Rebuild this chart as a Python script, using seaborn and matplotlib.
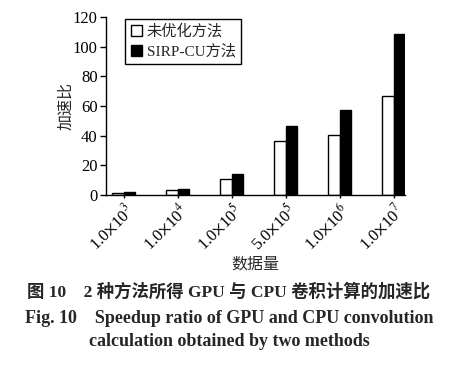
import numpy as np
import pandas as pd
import seaborn as sns
import matplotlib.pyplot as plt
from matplotlib.patches import Patch

sizes = [r"1.0$\times$10$^{3}$", r"1.0$\times$10$^{4}$", r"1.0$\times$10$^{5}$",
         r"5.0$\times$10$^{5}$", r"1.0$\times$10$^{6}$", r"1.0$\times$10$^{7}$"]
methods = ["未优化方法", "SIRP-CU方法"]
plain = [1.3, 3.5, 10.8, 36.2, 40.2, 67.0]
sirp = [1.7, 3.8, 14.4, 46.5, 57.1, 108.4]

df = pd.DataFrame({
    "size": sizes * 2,
    "method": [methods[0]] * len(sizes) + [methods[1]] * len(sizes),
    "speedup": plain + sirp,
})

sns.set_style("ticks")
plt.rcParams['font.family'] = ['Liberation Serif', 'Noto Sans CJK SC']
plt.rcParams['mathtext.fontset'] = 'stix'

fig = plt.figure(figsize=(4.58, 3.67), dpi=100)
ax = fig.add_axes([0.2314, 0.4687, 0.6526, 0.485])

sns.barplot(data=df, x="size", y="speedup", hue="method", order=sizes,
            hue_order=methods, palette=["white", "black"], width=0.42,
            edgecolor="black", linewidth=1.0, ax=ax, legend=False)

ax.set_xlim(-0.33, 5.21)
ax.set_ylim(0, 120)
ax.set_yticks(np.arange(0, 121, 20))
ax.tick_params(axis="y", labelsize=12, direction="out", length=4, width=1,
               pad=2, colors="black")
ax.tick_params(axis="x", labelsize=12, direction="out", length=2, width=1,
               pad=2, colors="black")
plt.setp(ax.get_xticklabels(), rotation=45, ha="right", rotation_mode="anchor")
for s in ["top", "right"]:
    ax.spines[s].set_visible(False)
for s in ["left", "bottom"]:
    ax.spines[s].set_color("black")
    ax.spines[s].set_linewidth(1.0)

ax.set_ylabel("加速比", fontsize=11.5)
ax.yaxis.set_label_coords(-0.105, 0.5)
ax.set_xlabel("数据量", fontsize=11.5, labelpad=2)

handles = [Patch(facecolor="white", edgecolor="black", linewidth=1.0),
           Patch(facecolor="black", edgecolor="black", linewidth=1.0)]
leg = ax.legend(handles, methods, loc="upper left", bbox_to_anchor=(0.06, 1.0),
                fontsize=11, fancybox=False, edgecolor="black", framealpha=1,
                handlelength=0.75, handleheight=0.75, handletextpad=0.3,
                borderpad=0.35, labelspacing=0.35, borderaxespad=0.1)
leg.get_frame().set_linewidth(1.0)

fig.text(0.5, 0.205, "图 10    2 种方法所得 GPU 与 CPU 卷积计算的加速比",
         ha="center", va="center", fontsize=12.5, fontweight="bold")
fig.text(0.5, 0.133, "Fig. 10    Speedup ratio of GPU and CPU convolution",
         ha="center", va="center", fontsize=13, fontweight="bold")
fig.text(0.5, 0.07, "calculation obtained by two methods",
         ha="center", va="center", fontsize=13, fontweight="bold")

fig.savefig("out.png", dpi=100)
